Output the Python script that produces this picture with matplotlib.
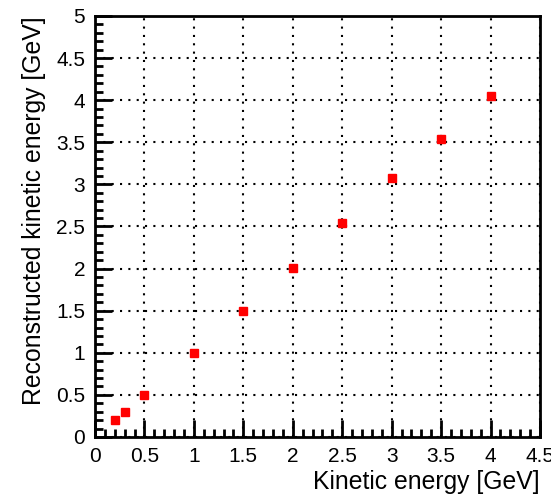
import matplotlib
matplotlib.use("Agg")
import matplotlib.pyplot as plt
from matplotlib.ticker import MultipleLocator

plt.rcParams["font.family"] = ["Liberation Sans", "DejaVu Sans"]

ekin = [0.2, 0.3, 0.5, 1.0, 1.5, 2.0, 2.5, 3.0, 3.5, 4.0]
ereco = [0.2, 0.3, 0.5, 1.0, 1.5, 2.01, 2.54, 3.08, 3.54, 4.05]

fig = plt.figure(figsize=(5.51, 4.98), dpi=100)
ax = fig.add_axes([0.1724, 0.1225, 0.8076, 0.8455])
ax.plot(ekin, ereco, "s", color="red", markersize=6, zorder=3)

ax.set_xlim(0, 4.5)
ax.set_ylim(0, 5)
ax.xaxis.set_major_locator(MultipleLocator(0.5))
ax.xaxis.set_minor_locator(MultipleLocator(0.1))
ax.yaxis.set_major_locator(MultipleLocator(0.5))
ax.yaxis.set_minor_locator(MultipleLocator(0.1))
ax.xaxis.set_major_formatter(lambda v, p: f"{v:g}")
ax.yaxis.set_major_formatter(lambda v, p: f"{v:g}")
ax.tick_params(which="both", direction="in", top=False, right=False,
               width=2, labelsize=15, pad=7)
ax.tick_params(which="major", length=12)
ax.tick_params(which="minor", length=6)
for s in ax.spines.values():
    s.set_linewidth(2)
ax.grid(True, which="major", color="black", linestyle=(0, (1, 3)), linewidth=1.5)

ax.set_xlabel("Kinetic energy [GeV]", fontsize=17.8, loc="right", labelpad=3)
ax.set_ylabel("Reconstructed kinetic energy [GeV]", fontsize=17.8, loc="top", labelpad=7)

fig.savefig("out.png", dpi=100)
